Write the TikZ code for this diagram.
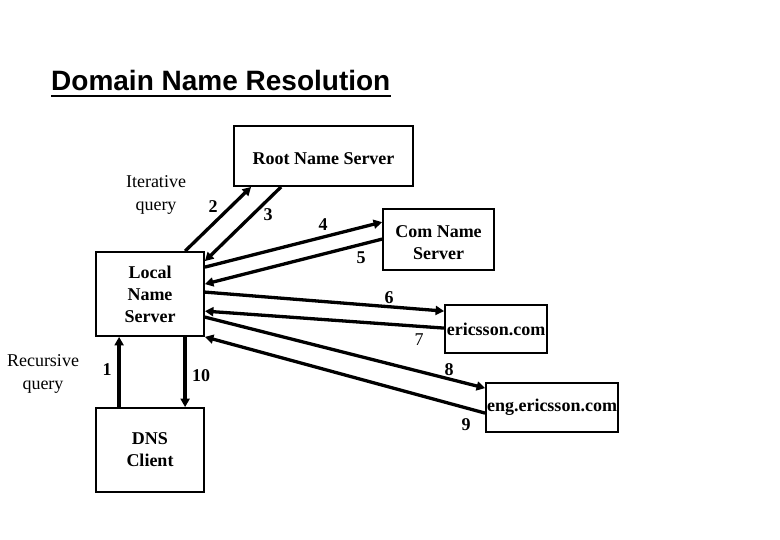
\documentclass[tikz,border=0pt]{standalone}
\usepackage{fontspec}
\setmainfont{Liberation Serif}
\newfontfamily\titlefont{Liberation Sans}
\usetikzlibrary{arrows.meta,calc}
\newcommand{\dropit}[1]{\raisebox{-3pt}[\height][\depth]{#1}}
\begin{document}
\begin{tikzpicture}[x=1pt,y=-1pt,
  box/.style={draw,line width=1.8pt,inner sep=0pt,align=center,
    font=\fontsize{18}{22}\selectfont\bfseries},
  lbl/.style={inner sep=0pt,font=\fontsize{18}{22}\selectfont\bfseries},
  plain/.style={inner sep=0pt,align=center,font=\fontsize{18}{23}\selectfont},
  arr/.style={line width=3.3pt,-{Triangle[length=8.5pt,width=9pt]}}]
\useasboundingbox (0,0) rectangle (780,540);
% title
\node[anchor=south west,inner sep=0pt,font=\titlefont\fontsize{28}{32}\selectfont\bfseries] (title) at (51,91) {Domain Name Resolution};
\draw[line width=2.2pt] ($(title.south west)+(0,5)$) -- ($(title.south east)+(0,5)$);
% boxes
\node[box,minimum width=179,minimum height=60] (root) at (323.5,156) {\dropit{Root Name Server}};
\node[box,minimum width=111,minimum height=61] (com) at (438.5,239.5) {\dropit{Com Name}\\\dropit{Server}};
\node[box,minimum width=108,minimum height=84] (local) at (150,294) {Local\\Name\\Server};
\node[box,minimum width=108,minimum height=84] (dns) at (150,450) {DNS\\Client};
\node[box,minimum width=102,minimum height=48] (eric) at (496,329) {ericsson.com};
\node[box,minimum width=132,minimum height=49] (eng) at (552,407.5) {eng.ericsson.com};
% arrows
\draw[arr] ($(local.north west)+(90,0)$) -- ($(root.south west)+(18,0)$);
\draw[arr] ($(root.south west)+(48,0)$) -- ($(local.north east)+(0,10)$);
\draw[arr] ($(local.north east)+(0,16)$) -- ($(com.north west)+(0,14)$);
\draw[arr] ($(com.north west)+(0,31)$) -- ($(local.north east)+(0,33)$);
\draw[arr] ($(local.north east)+(0,41)$) -- ($(eric.north west)+(0,7)$);
\draw[arr] ($(eric.north west)+(0,24)$) -- ($(local.north east)+(0,60)$);
\draw[arr] ($(local.north east)+(0,66)$) -- ($(eng.north west)+(0,6)$);
\draw[arr] ($(eng.north west)+(0,31)$) -- (local.south east);
\draw[arr] ($(dns.north west)+(24,0)$) -- ($(local.south west)+(24,0)$);
\draw[arr] ($(local.south west)+(90,0)$) -- ($(dns.north west)+(90,0)$);
% labels
\node[plain] (iter) at (156,195) {Iterative\\query};
\node[plain] (rec) at (43,374) {Recursive\\query};
\node[lbl] (n2) at (213,207) {2};
\node[lbl] (n3) at (268,215) {3};
\node[lbl] (n4) at (323,225) {4};
\node[lbl] (n5) at (361,258) {5};
\node[lbl] (n6) at (389,298) {6};
\node[plain] (n7) at (419,340) {7};
\node[lbl] (n8) at (449,370) {8};
\node[lbl] (n9) at (466,425) {9};
\node[lbl] (n1) at (107,370) {1};
\node[lbl] (n10) at (201,376) {10};
\end{tikzpicture}
\end{document}
